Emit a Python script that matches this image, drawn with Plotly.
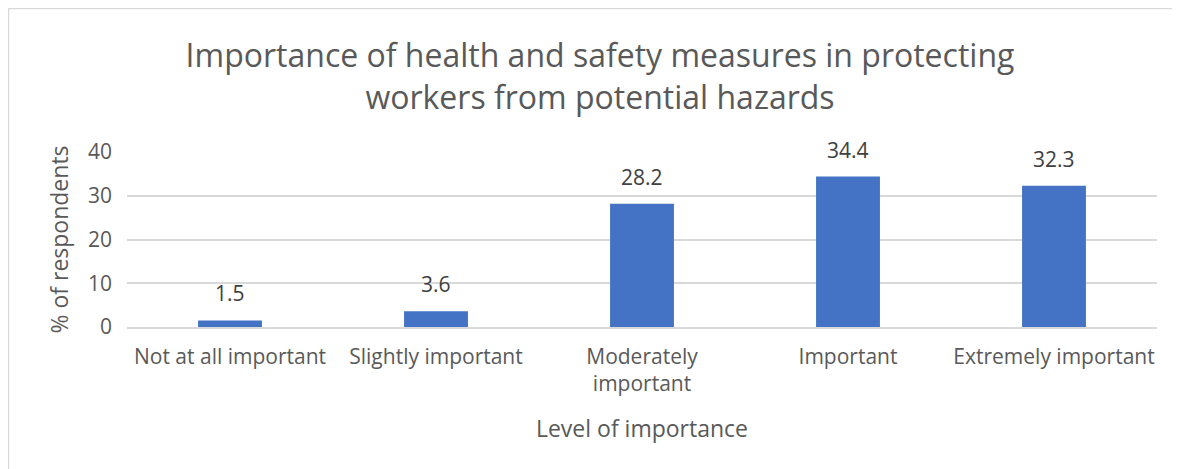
import plotly.graph_objects as go

# ── Data ─────────────────────────────────────────────────────────────────────
categories = ["Not at all important", "Slightly important", "Moderately<br>important",
              "Important", "Extremely important"]
values = [1.5, 3.6, 28.2, 34.4, 32.3]
y_ticks = [0, 10, 20, 30, 40]

BAR_COLOR = "#4472C4"
TEXT_GRAY = "#595959"
BORDER = "#D9D9D9"
FONT = "'Open Sans', sans-serif"

# page body adds an 8px offset, so figure coords = screen coords - 8
W, H = 1180, 469
PL, PR, PT, PB = 119, 1149, 144, 319   # plot area edges in figure px


def px_x(p):
    return (p - PL) / (PR - PL)


def px_y(p):
    return (PB - p) / (PB - PT)


fig = go.Figure(go.Bar(
    x=categories,
    y=values,
    marker=dict(color=BAR_COLOR, line=dict(width=0)),
    hoverinfo="x+y",
))

# value labels above bars
for c, v in zip(categories, values):
    fig.add_annotation(
        x=c, y=v, text=f"{v:.1f}", showarrow=False,
        yanchor="bottom", yshift=11,
        font=dict(size=21, color="#404040", family=FONT),
    )

# chart border (top and left only; the rest falls outside the window)
border = [
    (0.5, 0.5, 1200, 0.5),
    (0.5, 0.5, 0.5, 480),
]
shapes = [dict(type="line", xref="paper", yref="paper",
               x0=px_x(a), y0=px_y(b), x1=px_x(c), y1=px_y(d),
               line=dict(color=BORDER, width=1.5), layer="below")
          for a, b, c, d in border]

fig.update_layout(
    width=W, height=H,
    paper_bgcolor="white",
    plot_bgcolor="white",
    font=dict(family=FONT, size=21, color=TEXT_GRAY),
    margin=dict(l=PL, r=W - PR, t=PT, b=H - PB, pad=0),
    bargap=0.69,
    showlegend=False,
    title=dict(
        text="Importance of health and safety measures in protecting<br>workers from potential hazards",
        x=592 / W, xanchor="center",
        y=1 - 59 / H, yanchor="middle", yref="container",
        font=dict(size=32, color=TEXT_GRAY, family=FONT),
    ),
    xaxis=dict(
        title=dict(text="Level of importance", font=dict(size=23, color=TEXT_GRAY), standoff=25),
        showline=True, linecolor=BORDER, linewidth=1.5,
        ticks="", ticklabelstandoff=10,
        tickfont=dict(size=21, color=TEXT_GRAY),
    ),
    yaxis=dict(
        title=dict(text="% of respondents", font=dict(size=23, color=TEXT_GRAY), standoff=12),
        range=[0, 40], tickvals=y_ticks,
        showgrid=True, gridcolor=BORDER, gridwidth=1.5,
        zeroline=False, ticks="", ticklabelstandoff=14,
        tickfont=dict(size=21, color=TEXT_GRAY),
    ),
    shapes=shapes,
)

fig.write_html("out.html")
